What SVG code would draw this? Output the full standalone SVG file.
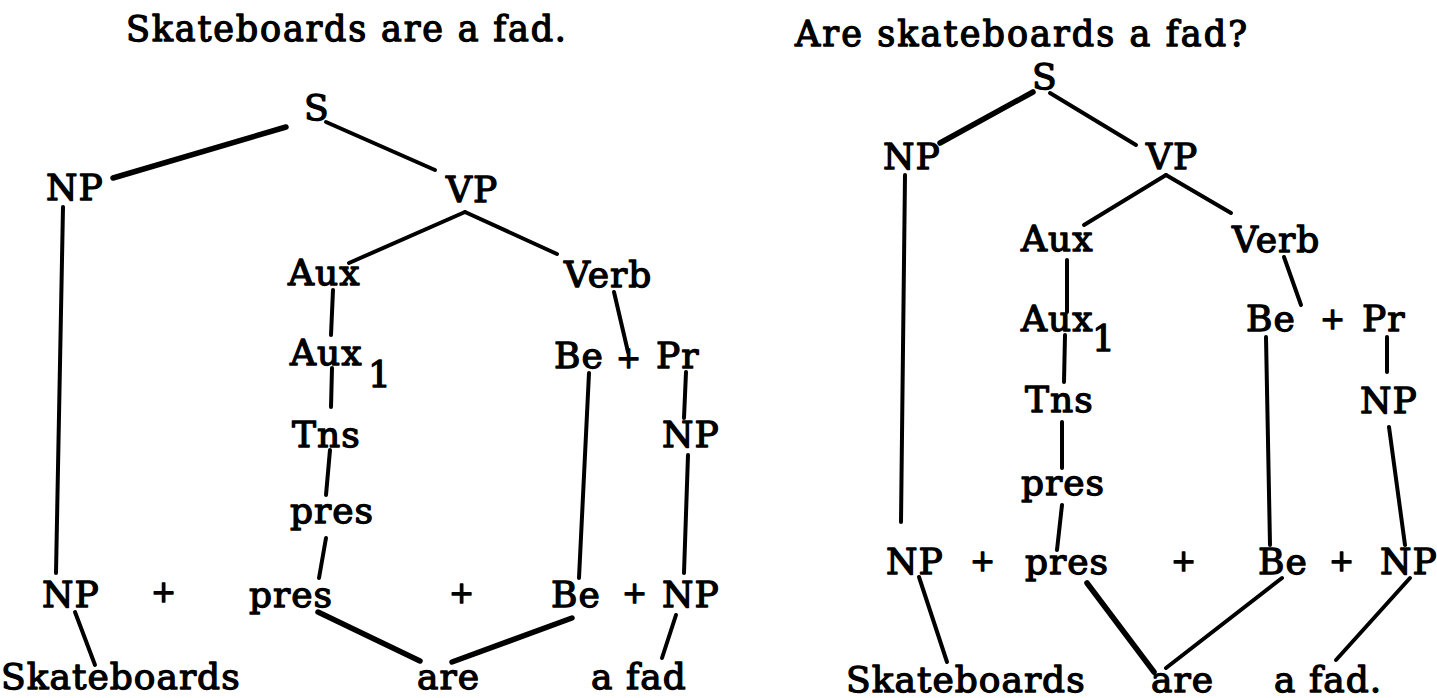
<svg xmlns="http://www.w3.org/2000/svg" width="1437" height="698" viewBox="0 0 1437 698">
<style>
  text { font-family: "DejaVu Serif", "Liberation Serif", serif; fill: #000; stroke: #000; stroke-width: 1.3px; stroke-linejoin: round; }
  .title { font-size: 35px; }
  .lbl { font-size: 36px; letter-spacing: 1px; }
  .plus { font-size: 30px; }
  .edges line { stroke: #000; stroke-width: 4; stroke-linecap: round; fill: none; }
  .edges line.thick { stroke-width: 5.5; }
</style>
<rect width="1437" height="698" fill="#fff"/>

<g id="titles">
  <text class="title" x="126" y="41" textLength="440" lengthAdjust="spacing">Skateboards are a fad.</text>
  <text class="title" x="795" y="46" textLength="452" lengthAdjust="spacing">Are skateboards a fad?</text>
</g>

<g class="edges" id="connectors">
  <!-- left tree -->
  <line class="thick" x1="286" y1="127" x2="113" y2="178"/>
  <line x1="326" y1="122" x2="435" y2="170"/>
  <line x1="63" y1="207" x2="56" y2="573"/>
  <line x1="465" y1="212" x2="349" y2="263"/>
  <line x1="465" y1="212" x2="557" y2="254"/>
  <line x1="333" y1="290" x2="331" y2="335"/>
  <line x1="332" y1="368" x2="331" y2="407"/>
  <line x1="330" y1="450" x2="326" y2="495"/>
  <line x1="326" y1="538" x2="319" y2="578"/>
  <line x1="614" y1="292" x2="628" y2="352"/>
  <line x1="589" y1="373" x2="579" y2="578"/>
  <line x1="686" y1="372" x2="684" y2="418"/>
  <line x1="688" y1="455" x2="684" y2="573"/>
  <line x1="75" y1="612" x2="95" y2="665"/>
  <line class="thick" x1="318" y1="612" x2="420" y2="661"/>
  <line class="thick" x1="572" y1="618" x2="452" y2="662"/>
  <line x1="676" y1="615" x2="662" y2="658"/>
  <!-- right tree -->
  <line class="thick" x1="1033" y1="92" x2="940" y2="143"/>
  <line x1="1050" y1="93" x2="1136" y2="145"/>
  <line x1="905" y1="175" x2="901" y2="522"/>
  <line x1="1166" y1="175" x2="1084" y2="225"/>
  <line x1="1166" y1="175" x2="1231" y2="213"/>
  <line x1="1067" y1="260" x2="1067" y2="312"/>
  <line x1="1065" y1="335" x2="1064" y2="382"/>
  <line x1="1062" y1="422" x2="1062" y2="468"/>
  <line x1="1062" y1="505" x2="1057" y2="550"/>
  <line x1="1284" y1="257" x2="1301" y2="305"/>
  <line x1="1387" y1="337" x2="1387" y2="372"/>
  <line x1="1266" y1="337" x2="1270" y2="545"/>
  <line x1="1389" y1="427" x2="1405" y2="545"/>
  <line x1="919" y1="577" x2="947" y2="662"/>
  <line class="thick" x1="1087" y1="583" x2="1154" y2="672"/>
  <line x1="1282" y1="578" x2="1166" y2="668"/>
  <line x1="1410" y1="578" x2="1336" y2="660"/>
</g>

<!-- left tree nodes -->
<g id="L-S"><text class="lbl" x="304" y="120">S</text></g>
<g id="L-NP"><text class="lbl" x="46" y="200">NP</text></g>
<g id="L-VP"><text class="lbl" x="446" y="202">VP</text></g>
<g id="L-Aux"><text class="lbl" x="288" y="285">Aux</text></g>
<g id="L-Verb"><text class="lbl" x="564" y="287">Verb</text></g>
<g id="L-Aux1"><text class="lbl" x="290" y="365">Aux</text><text class="lbl" x="368" y="387">1</text></g>
<g id="L-BePr"><text class="lbl" x="554" y="368">Be</text><text class="plus" x="616" y="368">+</text><text class="lbl" x="656" y="368">Pr</text></g>
<g id="L-Tns"><text class="lbl" x="292" y="447">Tns</text></g>
<g id="L-NP2"><text class="lbl" x="662" y="447">NP</text></g>
<g id="L-pres"><text class="lbl" x="290" y="523">pres</text></g>
<g id="L-row"><text class="lbl" x="42" y="607">NP</text><text class="plus" x="151" y="602">+</text><text class="lbl" x="249" y="607">pres</text><text class="plus" x="449" y="603">+</text><text class="lbl" x="551" y="607">Be</text><text class="plus" x="622" y="603">+</text><text class="lbl" x="662" y="607">NP</text></g>
<g id="L-Skateboards"><text class="lbl" x="1" y="689">Skateboards</text></g>
<g id="L-are"><text class="lbl" x="417" y="689">are</text></g>
<g id="L-afad"><text class="lbl" x="591" y="689">a fad</text></g>

<!-- right tree nodes -->
<g id="R-S"><text class="lbl" x="1032" y="89">S</text></g>
<g id="R-NP"><text class="lbl" x="883" y="169">NP</text></g>
<g id="R-VP"><text class="lbl" x="1146" y="169">VP</text></g>
<g id="R-Aux"><text class="lbl" x="1021" y="251">Aux</text></g>
<g id="R-Verb"><text class="lbl" x="1232" y="252">Verb</text></g>
<g id="R-Aux1"><text class="lbl" x="1021" y="331">Aux</text><text class="lbl" x="1092" y="351">1</text></g>
<g id="R-BePr"><text class="lbl" x="1246" y="331">Be</text><text class="plus" x="1320" y="329">+</text><text class="lbl" x="1362" y="331">Pr</text></g>
<g id="R-Tns"><text class="lbl" x="1025" y="412">Tns</text></g>
<g id="R-NP2"><text class="lbl" x="1360" y="413">NP</text></g>
<g id="R-pres"><text class="lbl" x="1021" y="495">pres</text></g>
<g id="R-row"><text class="lbl" x="886" y="574">NP</text><text class="plus" x="970" y="571">+</text><text class="lbl" x="1025" y="574">pres</text><text class="plus" x="1171" y="571">+</text><text class="lbl" x="1258" y="574">Be</text><text class="plus" x="1329" y="571">+</text><text class="lbl" x="1380" y="574">NP</text></g>
<g id="R-Skateboards"><text class="lbl" x="846" y="692">Skateboards</text></g>
<g id="R-are"><text class="lbl" x="1151" y="692">are</text></g>
<g id="R-afad"><text class="lbl" x="1274" y="692">a fad.</text></g>
</svg>
